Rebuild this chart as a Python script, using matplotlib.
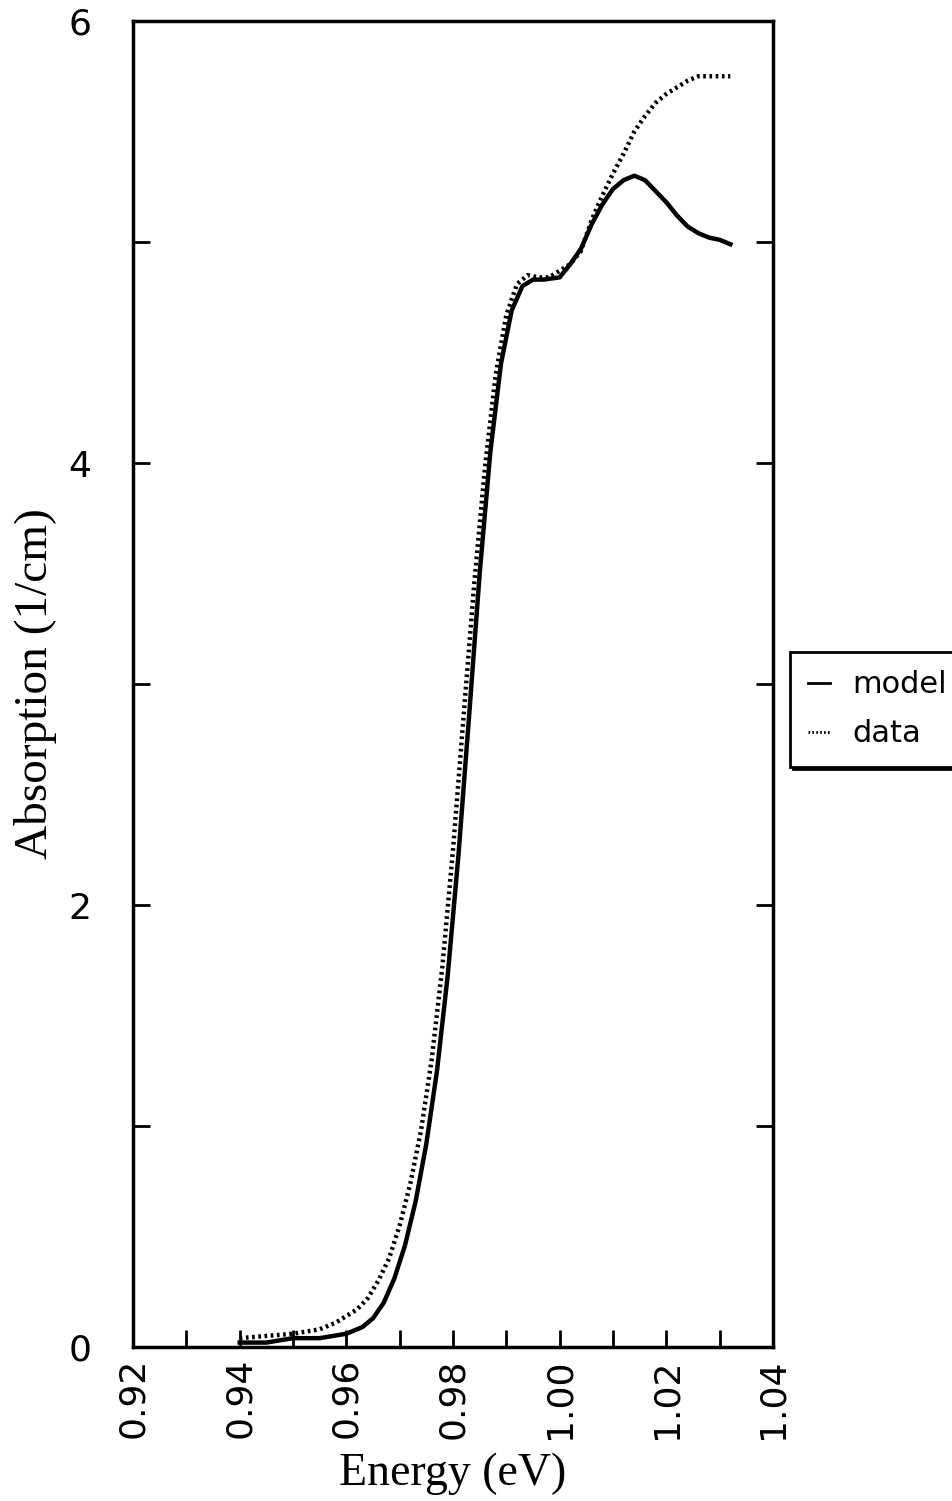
import numpy as np
import matplotlib
matplotlib.use("Agg")
import matplotlib.pyplot as plt
from matplotlib.ticker import MultipleLocator, FixedLocator

# Absorption edge: fitted model against measured data
energy_model = [0.940, 0.945, 0.950, 0.955, 0.960, 0.963, 0.965, 0.967, 0.969,
                0.971, 0.973, 0.975, 0.977, 0.979, 0.981, 0.983, 0.985, 0.987,
                0.989, 0.991, 0.993, 0.995, 0.997, 1.000, 1.002, 1.004, 1.006,
                1.008, 1.010, 1.012, 1.014, 1.016, 1.018, 1.020, 1.022, 1.024,
                1.026, 1.028, 1.030, 1.032]
absorb_model = [0.02, 0.02, 0.04, 0.04, 0.06, 0.09, 0.13, 0.20, 0.31,
                0.46, 0.66, 0.92, 1.25, 1.68, 2.22, 2.85, 3.50, 4.05,
                4.45, 4.69, 4.80, 4.83, 4.83, 4.84, 4.90, 4.97, 5.08,
                5.17, 5.24, 5.28, 5.30, 5.28, 5.23, 5.18, 5.12, 5.07,
                5.04, 5.02, 5.01, 4.99]

energy_data = [0.940, 0.945, 0.950, 0.955, 0.958, 0.960, 0.962, 0.964, 0.966,
               0.968, 0.970, 0.972, 0.974, 0.976, 0.978, 0.980, 0.982, 0.984,
               0.986, 0.988, 0.990, 0.992, 0.994, 0.996, 0.998, 1.000, 1.002,
               1.004, 1.006, 1.008, 1.010, 1.012, 1.014, 1.016, 1.018, 1.020,
               1.022, 1.024, 1.026, 1.028, 1.030, 1.032]
absorb_data = [0.04, 0.05, 0.06, 0.08, 0.11, 0.14, 0.17, 0.22, 0.30,
               0.40, 0.55, 0.74, 0.98, 1.30, 1.72, 2.25, 2.86, 3.46,
               3.98, 4.40, 4.67, 4.81, 4.85, 4.84, 4.84, 4.87, 4.90,
               4.96, 5.10, 5.21, 5.31, 5.40, 5.50, 5.57, 5.63, 5.67,
               5.70, 5.73, 5.75, 5.75, 5.75, 5.75]

x_major = [0.92, 0.94, 0.96, 0.98, 1.00, 1.02, 1.04]
y_major = [0, 2, 4, 6]

fig = plt.figure(figsize=(9.53, 15.01), dpi=100)
ax = fig.add_axes([0.1396, 0.1026, 0.8111 - 0.1396, 0.986 - 0.1026])

ax.plot(energy_model, absorb_model, color="black", lw=3.2, label="model")
ax.plot(energy_data, absorb_data, color="black", lw=3.2, label="data",
        linestyle=(0, (0.6, 0.8)))

ax.set_xlim(0.92, 1.04)
ax.set_ylim(0, 6)
ax.xaxis.set_major_locator(FixedLocator(x_major))
ax.xaxis.set_minor_locator(MultipleLocator(0.01))
ax.yaxis.set_major_locator(FixedLocator(y_major))
ax.yaxis.set_minor_locator(MultipleLocator(1))
ax.set_xticklabels([f"{v:.2f}" for v in x_major], rotation=90)
ax.set_yticklabels([str(v) for v in y_major])

for s in ax.spines.values():
    s.set_linewidth(2.5)
ax.tick_params(which="both", direction="in", length=12, width=2,
               labelsize=26, right=True)
ax.tick_params(axis="y", pad=30)
ax.tick_params(axis="x", pad=8)

ax.set_xlabel("Energy (eV)", family="Liberation Serif", fontsize=33, labelpad=10)
ax.set_ylabel("Absorption (1/cm)", family="Liberation Serif", fontsize=34,
              labelpad=8)

leg = ax.legend(loc="upper left", bbox_to_anchor=(790 / 953, 1 - 652 / 1501),
                bbox_transform=fig.transFigure, fontsize=22, frameon=True,
                fancybox=False, handlelength=0.7, handletextpad=0.75,
                borderpad=0.6, labelspacing=0.65, borderaxespad=0,
                shadow={"color": "black", "alpha": 1.0})
leg.get_frame().set_edgecolor("black")
leg.get_frame().set_linewidth(2)
for h in leg.get_lines():
    h.set_linewidth(2)

fig.savefig("out.png", dpi=100)
